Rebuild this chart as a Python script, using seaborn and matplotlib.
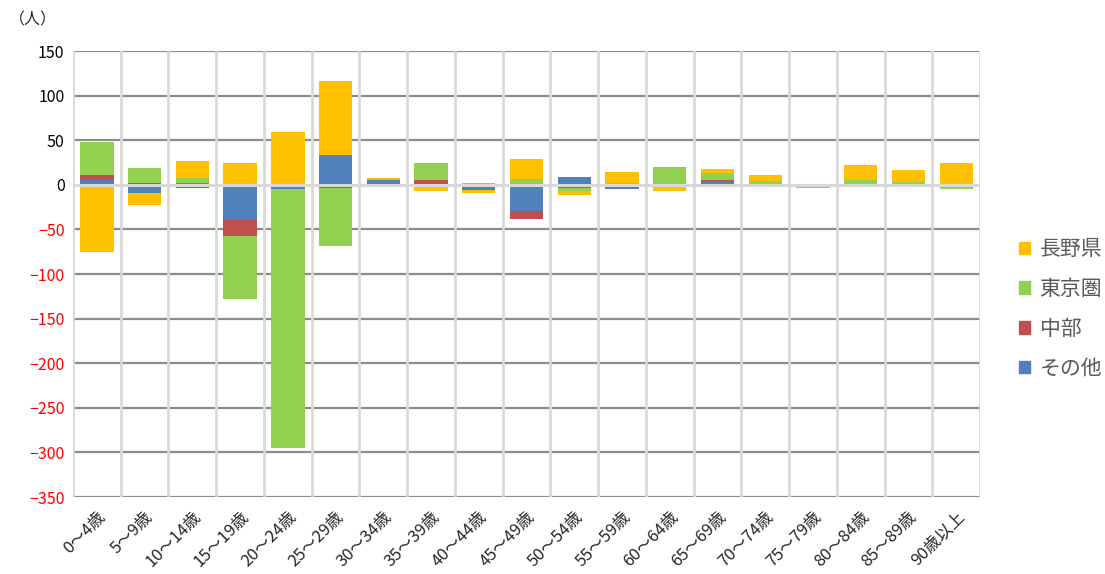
import numpy as np
import pandas as pd
import matplotlib.pyplot as plt
import seaborn as sns

# age groups and net migration by origin area (persons)
ages = ['0～4歳', '5～9歳', '10～14歳', '15～19歳', '20～24歳', '25～29歳', '30～34歳',
        '35～39歳', '40～44歳', '45～49歳', '50～54歳', '55～59歳', '60～64歳', '65～69歳',
        '70～74歳', '75～79歳', '80～84歳', '85～89歳', '90歳以上']
sonota = [6, -9, 2, -39, -5, 34, 5, 0, -5, -29, 9, -5, -1, 4, 0, 0, 1, 1, -2]
chubu = [5, 2, -3, -18, 0, -3, -2, 5, -1, -9, -3, 0, 0, 2, 0, -1, 0, 0, 0]
tokyo = [37, 17, 6, -71, -290, -66, 2, 20, 2, 7, -4, 2, 20, 7, 4, -2, 4, 2, -3]
nagano = [-75, -14, 19, 24, 59, 82, 1, -7, -3, 22, -4, 12, -6, 5, 7, 1, 17, 14, 24]

series = [('その他', sonota, '#4F81BD'), ('中部', chubu, '#C0504D'),
          ('東京圏', tokyo, '#92D050'), ('長野県', nagano, '#FFC000')]

sns.set_style('white')
plt.rcParams['font.family'] = ['Noto Sans CJK JP', 'DejaVu Sans']

fig = plt.figure(figsize=(11.05, 5.74), dpi=100)
ax = fig.add_axes([0.066, 0.134, 0.821, 0.777])

pos_base = np.zeros(len(ages))
neg_base = np.zeros(len(ages))
handles = {}
for name, vals, color in series:
    v = np.array(vals, dtype=float)
    bottom = np.where(v >= 0, pos_base, neg_base)
    df = pd.DataFrame({'age': ages, 'val': v})
    sns.barplot(data=df, x='age', y='val', bottom=bottom, color=color,
                width=0.7, linewidth=0, saturation=1, ax=ax, zorder=3)
    handles[name] = plt.Rectangle((0, 0), 1, 1, color=color)
    pos_base = pos_base + np.where(v >= 0, v, 0)
    neg_base = neg_base + np.where(v < 0, v, 0)

ax.set_xlim(-0.5, len(ages) - 0.5)
ax.set_ylim(-350, 150)
yt = np.arange(-350, 151, 50)
ax.set_yticks(yt)
ax.set_yticklabels([f'{t}' if t >= 0 else f'−{abs(t)}' for t in yt], fontsize=11.5)
for lab, t in zip(ax.get_yticklabels(), yt):
    lab.set_color('red' if t < 0 else 'black')

ax.set_xticks(range(len(ages)))
ax.set_xticklabels(ages, rotation=45, ha='right', rotation_mode='anchor', fontsize=12)
ax.tick_params(axis='both', length=0, pad=6)
ax.tick_params(axis='x', pad=8)
ax.set_xlabel('')
ax.set_ylabel('')

# horizontal grid dark, vertical category separators light
for t in yt:
    if t == 0:
        continue
    ax.axhline(t, color='#8c8c8c', lw=1.6, zorder=1)
ax.axhline(0, color='#d9d9d9', lw=2.2, zorder=4)
for b in np.arange(-0.5, len(ages), 1):
    ax.axvline(b, color='#d9d9d9', lw=2, zorder=2)

for s in ax.spines.values():
    s.set_visible(False)

fig.text(0.008, 0.965, '（人）', fontsize=11.5, ha='left', va='center')

order = ['長野県', '東京圏', '中部', 'その他']
leg = fig.legend([handles[n] for n in order], order, loc='center left',
                 bbox_to_anchor=(0.905, 0.462), frameon=False, fontsize=15,
                 handlelength=0.55, handleheight=0.55, handletextpad=0.45,
                 labelspacing=0.85, labelcolor='#595959')

fig.savefig('out.png', dpi=100)
